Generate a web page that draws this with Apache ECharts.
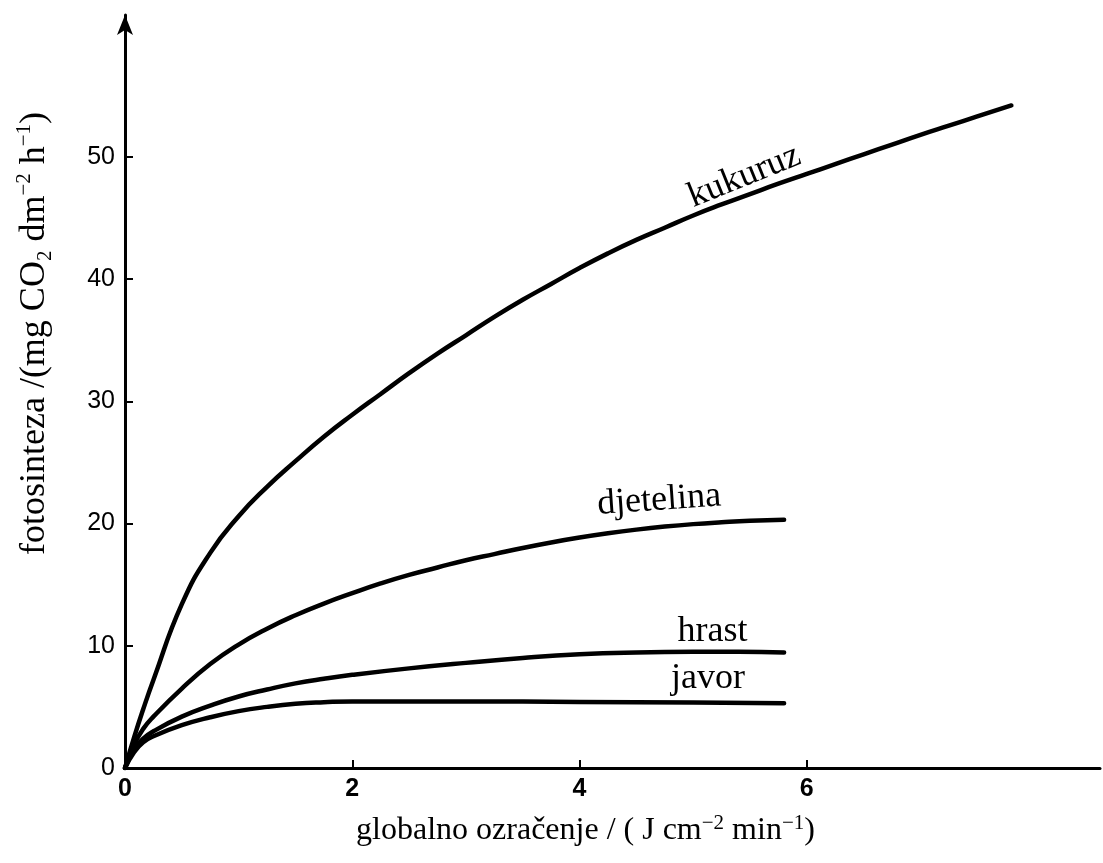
<!DOCTYPE html>
<html>
<head>
<meta charset="utf-8">
<title>fotosinteza</title>
<script src="https://cdn.jsdelivr.net/npm/echarts@6.0.0/dist/echarts.min.js"></script>
<style>
    html, body { margin: 0; padding: 0; background: #fff; }
    #test { width: 1103px; height: 863px; }
</style>
</head>
<body>
<div id="test"></div>
<script>
// vrijednosti ocitane sa slike
var kukuruzX = [0, 0.08, 0.16, 0.25, 0.5, 0.75, 1.0, 1.25, 1.5, 1.75, 2.0, 2.25, 2.5, 2.75, 3.0, 3.25, 3.5, 3.75, 4.0, 4.25, 4.5, 4.75, 5.0, 5.25, 5.5, 5.75, 6.0, 6.25, 6.5, 6.75, 7.0, 7.25, 7.5, 7.8];
var kukuruzY = [0, 2.5, 4.8, 7.2, 13.4, 17.6, 20.6, 23.0, 25.1, 27.1, 28.9, 30.6, 32.3, 33.9, 35.4, 36.9, 38.3, 39.6, 40.9, 42.1, 43.2, 44.2, 45.2, 46.1, 46.95, 47.8, 48.6, 49.4, 50.2, 51.0, 51.8, 52.55, 53.3, 54.2];

var djetelinaX = [0, 0.08, 0.16, 0.25, 0.5, 0.75, 1.0, 1.25, 1.5, 1.75, 2.0, 2.25, 2.5, 2.75, 3.0, 3.25, 3.5, 3.75, 4.0, 4.25, 4.5, 4.75, 5.0, 5.25, 5.5, 5.8];
var djetelinaY = [0, 1.9, 3.2, 4.2, 6.5, 8.5, 10.1, 11.4, 12.5, 13.45, 14.3, 15.1, 15.8, 16.4, 17.0, 17.5, 18.0, 18.45, 18.85, 19.2, 19.5, 19.75, 19.95, 20.1, 20.22, 20.3];

var hrastX = [0, 0.08, 0.16, 0.25, 0.5, 0.75, 1.0, 1.25, 1.5, 1.75, 2.0, 2.5, 3.0, 3.5, 4.0, 4.5, 5.0, 5.4, 5.8];
var hrastY = [0, 1.5, 2.4, 3.0, 4.2, 5.1, 5.85, 6.42, 6.92, 7.3, 7.62, 8.15, 8.6, 9.0, 9.3, 9.45, 9.5, 9.5, 9.45];

var javorX = [0, 0.08, 0.16, 0.25, 0.5, 0.75, 1.0, 1.25, 1.5, 1.75, 2.0, 2.5, 3.0, 4.0, 5.0, 5.8];
var javorY = [0, 1.3, 2.1, 2.6, 3.5, 4.15, 4.65, 5.0, 5.25, 5.38, 5.45, 5.45, 5.45, 5.4, 5.35, 5.3];

// natpisi uz krivulje
var curveNames = ['kukuruz', 'djetelina', 'hrast', 'javor'];
var labelX = [5.45, 4.70, 5.17, 5.13];
var labelY = [48.4, 21.9, 11.2, 7.3];
var labelAngle = [22, 4, 0, 0];

var xTicks = [0, 2, 4, 6];
var yTicks = [0, 10, 20, 30, 40, 50];

function pairs(xs, ys) {
    var d = [];
    for (var i = 0; i < xs.length; i++) {
        d.push([xs[i], ys[i]]);
    }
    return d;
}

var curves = [
    pairs(kukuruzX, kukuruzY),
    pairs(djetelinaX, djetelinaY),
    pairs(hrastX, hrastY),
    pairs(javorX, javorY)
];

var series = [];
for (var i = 0; i < curves.length; i++) {
    series.push({
        name: curveNames[i],
        type: 'line',
        data: curves[i],
        smooth: true,
        showSymbol: false,
        symbol: 'none',
        lineStyle: { color: '#000', width: 4.5, cap: 'round', join: 'round' }
    });
}

var labelData = [];
for (var j = 0; j < curveNames.length; j++) {
    labelData.push({
        name: curveNames[j],
        value: [labelX[j], labelY[j]],
        label: { rotate: labelAngle[j] }
    });
}
series.push({
    type: 'scatter',
    symbolSize: 0,
    data: labelData,
    silent: true,
    itemStyle: { opacity: 1 },
    label: {
        show: true,
        position: 'inside',
        formatter: '{b}',
        color: '#000',
        opacity: 1,
        fontFamily: 'Liberation Serif',
        fontSize: 36
    }
});

var supStyle = { fontFamily: 'Liberation Serif', fontSize: 21, lineHeight: 21, verticalAlign: 'top', color: '#000' };
var subStyle = { fontFamily: 'Liberation Serif', fontSize: 21, lineHeight: 21, verticalAlign: 'bottom', color: '#000' };

option = {
    animation: false,
    backgroundColor: '#fff',
    grid: { left: 125, right: 3, top: 15, bottom: 95 },
    xAxis: {
        type: 'value',
        min: 0,
        max: 8.58,
        interval: 2,
        name: 'globalno ozračenje / ( J cm{s|−2} min{s|−1})',
        nameLocation: 'middle',
        nameGap: 45,
        nameTextStyle: {
            fontFamily: 'Liberation Serif',
            fontSize: 32,
            lineHeight: 36,
            color: '#000',
            padding: [0, 54, 0, 0],
            rich: { s: supStyle }
        },
        axisLine: { lineStyle: { color: '#000', width: 3 } },
        axisTick: { inside: true, length: 8, customValues: xTicks, lineStyle: { color: '#000', width: 2 } },
        axisLabel: {
            customValues: xTicks,
            margin: 9,
            fontFamily: 'Liberation Sans',
            fontWeight: 'bold',
            fontSize: 25,
            color: '#000'
        },
        splitLine: { show: false }
    },
    yAxis: {
        type: 'value',
        min: 0,
        max: 61.6,
        interval: 10,
        name: 'fotosinteza /(mg CO{b|2} dm{s|−2} h{s|−1})',
        nameLocation: 'middle',
        nameRotate: 90,
        nameGap: 69,
        nameTextStyle: {
            fontFamily: 'Liberation Serif',
            fontSize: 36,
            lineHeight: 42,
            color: '#000',
            padding: [0, 0, 0, 116],
            rich: { s: supStyle, b: subStyle }
        },
        axisLine: {
            lineStyle: { color: '#000', width: 3 },
            symbol: ['none', 'arrow'],
            symbolSize: [12, 20]
        },
        axisTick: { inside: true, length: 8, customValues: yTicks, lineStyle: { color: '#000', width: 2 } },
        axisLabel: {
            customValues: yTicks,
            margin: 10,
            fontFamily: 'Liberation Sans',
            fontSize: 25,
            color: '#000'
        },
        splitLine: { show: false }
    },
    series: series
};

var myChart1 = echarts.init(document.getElementById('test'));
myChart1.setOption(option);
</script>
</body>
</html>
